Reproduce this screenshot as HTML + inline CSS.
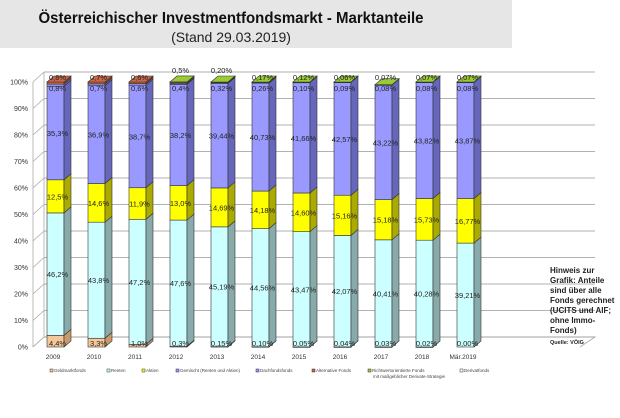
<!DOCTYPE html>
<html><head><meta charset="utf-8"><style>
body{margin:0;background:#fff;width:620px;height:413px;overflow:hidden;font-family:"Liberation Sans",sans-serif}
</style></head><body>
<svg width="620" height="413" id="c" xmlns="http://www.w3.org/2000/svg" font-family="Liberation Sans, sans-serif">
<rect x="0" y="0" width="512" height="48" fill="#e6e6e6"/>
<text x="231" y="23" text-anchor="middle" font-size="16" font-weight="bold" fill="#111" textLength="385" lengthAdjust="spacingAndGlyphs">Österreichischer Investmentfondsmarkt - Marktanteile</text>
<text x="231" y="42" text-anchor="middle" font-size="14" fill="#222">(Stand 29.03.2019)</text>
<g id="grid"></g><g id="bars"></g><g id="legend"></g>
<g font-size="8" font-weight="bold" fill="#222">
<text x="550" y="273">Hinweis zur</text><text x="550" y="283">Grafik: Anteile</text><text x="550" y="293">sind über alle</text><text x="550" y="303">Fonds gerechnet</text><text x="550" y="313">(UCITS und AIF;</text><text x="550" y="323">ohne Immo-</text><text x="550" y="333">Fonds)</text>
<text x="550" y="344" font-size="5.5">Quelle: VÖIG</text></g>
</svg>
<script>
const categories=["2009","2010","2011","2012","2013","2014","2015","2016","2017","2018","Mär.2019"];
const geldmarkt=[4.4,3.3,1.0,0.3,0.15,0.10,0.05,0.04,0.03,0.02,0.00];
const renten=[46.2,43.8,47.2,47.6,45.19,44.56,43.47,42.07,40.41,40.28,39.21];
const aktien=[12.5,14.6,11.9,13.0,14.69,14.18,14.60,15.16,15.18,15.73,16.77];
const gemischt=[35.3,36.9,38.7,38.2,39.44,40.73,41.66,42.57,43.22,43.82,43.87];
const dachfonds=[0.8,0.7,0.6,0.4,0.32,0.26,0.10,0.09,0.08,0.08,0.08];
const alternative=[0.8,0.7,0.6,0.5,0.20,0,0,0,0,0,0];
const richtwert=[0,0,0,0.01,0.01,0.17,0.12,0.06,0.07,0.07,0.07];
const yTicks=[0,10,20,30,40,50,60,70,80,90,100];
const legendLabels=["Geldmarktfonds","Renten","Aktien","Gemischt (Renten und Aktien)","Dachfondsfonds","Alternative Fonds","Richtwertorientierte Fonds","Derivatfonds"];
const NS="http://www.w3.org/2000/svg";
const y0=347,y1=82,dx=7,dy=6;
const y=v=>y0-(y0-y1)*v/100;
const x=i=>47+41*i;
const bw=17;
function mk(t,a,p){const e=document.createElementNS(NS,t);for(const k in a)e.setAttribute(k,a[k]);p.appendChild(e);return e;}
const grid=document.getElementById('grid');
mk('polyline',{points:`${33},${y0} ${44},${y0-10} ${595},${y0-10} ${580},${y0}`,fill:'none',stroke:'#aaa','stroke-width':0.8},grid);
yTicks.forEach(t=>{
  const g=mk('line',{x1:44,x2:595,y1:y(t)-10,y2:y(t)-10,stroke:'#999','stroke-width':0.8},grid);
  
  
  mk('line',{x1:33,x2:44,y1:y(t),y2:y(t)-10,stroke:'#aaa','stroke-width':0.8},grid);
  const l=mk('text',{x:28,y:y(t)+2.5,'text-anchor':'end','font-size':7,fill:'#333'},grid);
  l.textContent=t+'%';
  
  
});
mk('line',{x1:33,x2:33,y1:y0,y2:y1,stroke:'#aaa','stroke-width':0.8},grid);
mk('line',{x1:44,x2:44,y1:y0-10,y2:y1-10,stroke:'#aaa','stroke-width':0.8},grid);
const series=[
 {d:geldmarkt,c:'#f5c89a',s:'#c89a6a',n:'geldmarkt'},
 {d:renten,c:'#ccffff',s:'#88aaaa',n:'renten'},
 {d:aktien,c:'#ffff00',s:'#aaaa00',n:'aktien'},
 {d:gemischt,c:'#9999ff',s:'#6666bb',n:'gemischt'},
 {d:dachfonds,c:'#9999ff',s:'#6666bb',n:'dachfonds'},
 {d:alternative,c:'#cc6644',s:'#994422',n:'alternative'},
 {d:richtwert,c:'#99cc33',s:'#668822',n:'richtwert'}];
const bars=document.getElementById('bars');
const fmt=(v,i)=>{const s=(i>=4||v===0.15)?v.toFixed(2):v.toFixed(1);return s.replace('.',',')+'%';};
categories.forEach((cat,i)=>{
  let cum=0;const X=x(i);
  series.forEach((s,k)=>{
    const v=s.d[i];const a=y(cum),b=y(cum+v);cum+=v;
    if(v<=0)return;
    const r=mk('rect',{x:X,y:b,width:bw,height:Math.max(a-b,0.5),fill:s.c,stroke:'#333','stroke-width':0.6},bars);
    
    
    mk('polygon',{points:`${X+bw},${a} ${X+bw+dx},${a-dy} ${X+bw+dx},${b-dy} ${X+bw},${b}`,fill:s.s,stroke:'#333','stroke-width':0.6},bars);
    const top=k===series.length-1||series.slice(k+1).every(t=>t.d[i]===0);
    if(top)mk('polygon',{points:`${X},${b} ${X+dx},${b-dy} ${X+bw+dx},${b-dy} ${X+bw},${b}`,fill:s.c,stroke:'#333','stroke-width':0.6},bars);
  });
  const lab=(val,yy)=>{const t=mk('text',{x:X+bw/2+2,y:yy,'text-anchor':'middle','font-size':7.5,fill:'#222'},bars);t.textContent=fmt(val,i);};
  lab(geldmarkt[i],y0-1);
  lab(renten[i],y(geldmarkt[i]+renten[i]/2)+3);
  lab(aktien[i],y(geldmarkt[i]+renten[i]+aktien[i]/2)+3);
  lab(gemischt[i],y(geldmarkt[i]+renten[i]+aktien[i]+gemischt[i]/2)+3);
  lab(dachfonds[i],y1+9);
  const tv=alternative[i]>0?alternative[i]:richtwert[i];
  lab(tv,y1-(i===3||i===4?9:2));
  const xl=mk('text',{x:X+6,y:359,'text-anchor':'middle','font-size':6.5,fill:'#333'},bars);
  xl.textContent=cat;
  
  
});
const lg=document.getElementById('legend');
const lx=[50,107,142,176,256,312,368,460];
const lc=['#f5c89a','#ccffff','#ffff00','#9999ff','#9999ff','#cc6644','#99cc33','#ffffff'];
legendLabels.forEach((t,i)=>{
  const e=mk('rect',{x:lx[i],y:369,width:3,height:3,fill:lc[i],stroke:'#333','stroke-width':0.5},lg);
  
  
  const tx=mk('text',{x:lx[i]+4,y:372,'font-size':4.5,fill:'#444'},lg);tx.textContent=t;
});
const t2=mk('text',{x:373,y:378,'font-size':4.5,fill:'#444'},lg);t2.textContent='mit maßgeblicher Derivate-Strategie';
</script>
</body></html>
